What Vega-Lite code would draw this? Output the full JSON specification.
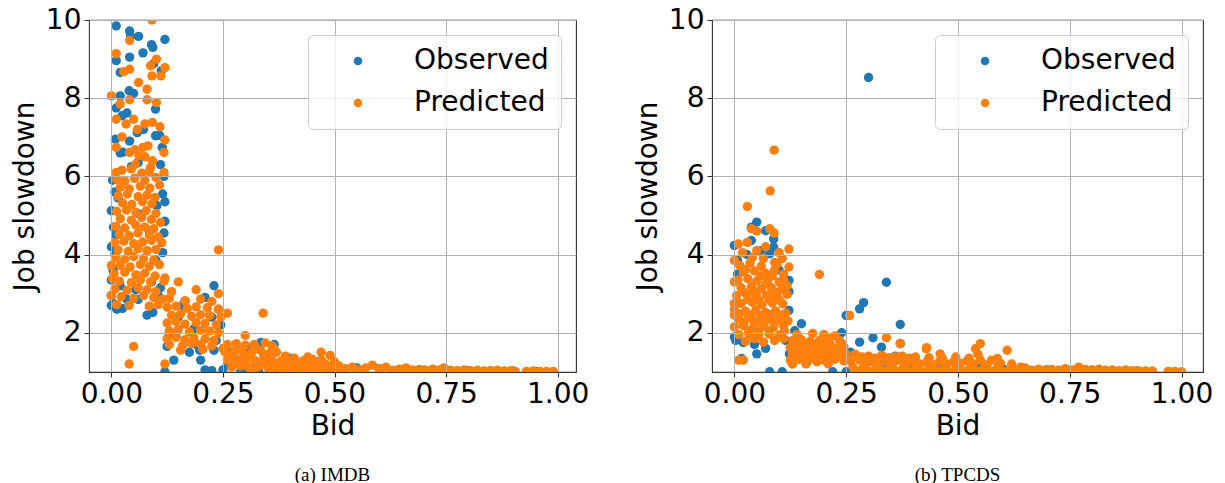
{
"$schema":"https://vega.github.io/schema/vega-lite/v6.json",
"padding":{"left":10,"top":5,"right":5,"bottom":0},
"bounds":"flush",
"spacing":136,
"resolve":{"scale":{"color":"independent"},"legend":{"color":"independent"}},
"config":{
 "view":{"stroke":"#333333","strokeWidth":1.1},
 "font":"DejaVu Sans",
 "axis":{"labelFont":"DejaVu Sans","labelFontSize":28,"labelColor":"#000000","titleFont":"DejaVu Sans","titleFontSize":28,"titleFontWeight":"normal","titleColor":"#000000","domain":false,"tickColor":"#333333","tickSize":5,"tickWidth":1,"gridColor":"#b0b0b0","gridWidth":1,"labelPadding":3,"zindex":1},
 "legend":{"orient":"top-right","offset":15,"labelFont":"DejaVu Sans","labelFontSize":28,"labelColor":"#000000","fillColor":"rgba(255,255,255,0.8)","strokeColor":"#cccccc","strokeWidth":1,"cornerRadius":5,"padding":12,"symbolType":"circle","symbolSize":72,"symbolOffset":24,"labelOffset":42,"rowPadding":14,"symbolStrokeWidth":0,"zindex":2},
 "title":{"font":"Liberation Serif","fontSize":19,"fontWeight":"normal","color":"#000000"}
},
"datasets":{
"aO":[{"x":0.011,"y":9.85},{"x":0.041,"y":9.72},{"x":0.043,"y":9.58},{"x":0.061,"y":9.58},{"x":0.12,"y":9.5},{"x":0.09,"y":9.37},{"x":0.093,"y":9.3},{"x":0.071,"y":9.16},{"x":0.041,"y":9.05},{"x":0.011,"y":8.96},{"x":0.095,"y":8.88},{"x":0.02,"y":8.66},{"x":0.112,"y":8.7},{"x":0.04,"y":8.19},{"x":0.05,"y":8.12},{"x":0.02,"y":8.06},{"x":0.099,"y":7.72},{"x":0.011,"y":7.75},{"x":0.024,"y":7.55},{"x":0.035,"y":7.62},{"x":0.058,"y":7.12},{"x":0.072,"y":7.2},{"x":0.099,"y":7.04},{"x":0.108,"y":7.05},{"x":0.009,"y":6.95},{"x":0.041,"y":6.9},{"x":0.114,"y":6.74},{"x":0.02,"y":6.6},{"x":0.026,"y":6.62},{"x":0.06,"y":6.35},{"x":0.045,"y":6.25},{"x":0.11,"y":6.3},{"x":0.118,"y":6.0},{"x":0.003,"y":5.9},{"x":0.008,"y":5.6},{"x":0.015,"y":5.45},{"x":0.0,"y":5.12},{"x":0.115,"y":5.55},{"x":0.12,"y":5.35},{"x":0.102,"y":5.25},{"x":0.06,"y":5.05},{"x":0.12,"y":4.85},{"x":0.005,"y":4.7},{"x":0.01,"y":4.5},{"x":0.118,"y":4.55},{"x":0.085,"y":4.6},{"x":0.0,"y":4.2},{"x":0.008,"y":4.0},{"x":0.115,"y":4.05},{"x":0.1,"y":3.85},{"x":0.004,"y":3.6},{"x":0.0,"y":3.35},{"x":0.09,"y":3.3},{"x":0.055,"y":3.1},{"x":0.0,"y":2.95},{"x":0.005,"y":2.75},{"x":0.0,"y":2.7},{"x":0.012,"y":2.6},{"x":0.025,"y":2.62},{"x":0.035,"y":2.85},{"x":0.06,"y":2.85},{"x":0.08,"y":2.45},{"x":0.093,"y":2.52},{"x":0.105,"y":2.95},{"x":0.11,"y":3.15},{"x":0.02,"y":3.2},
{"x":0.125,"y":1.65},{"x":0.14,"y":1.3},{"x":0.13,"y":2.0},{"x":0.15,"y":2.4},{"x":0.165,"y":2.8},{"x":0.175,"y":1.5},{"x":0.19,"y":1.7},{"x":0.2,"y":1.3},{"x":0.21,"y":2.9},{"x":0.23,"y":3.2},{"x":0.225,"y":2.4},{"x":0.235,"y":1.8},{"x":0.245,"y":2.2},{"x":0.24,"y":2.6},{"x":0.12,"y":1.0},{"x":0.21,"y":1.05},{"x":0.225,"y":1.03},{"x":0.185,"y":2.1},{"x":0.16,"y":2.7},{"x":0.145,"y":1.9},{"x":0.198,"y":1.55},{"x":0.23,"y":1.55},
{"x":0.25,"y":1.05},{"x":0.26,"y":1.2},{"x":0.27,"y":1.5},{"x":0.29,"y":1.02},{"x":0.3,"y":1.35},{"x":0.31,"y":1.6},{"x":0.32,"y":1.1},{"x":0.335,"y":1.75},{"x":0.345,"y":1.3},{"x":0.355,"y":1.04},{"x":0.36,"y":1.5},{"x":0.365,"y":1.7},{"x":0.37,"y":1.02},{"x":0.38,"y":1.25},{"x":0.39,"y":1.15},{"x":0.4,"y":1.35},{"x":0.42,"y":1.1},{"x":0.44,"y":1.2},{"x":0.46,"y":1.25},{"x":0.48,"y":1.15},{"x":0.5,"y":1.1},{"x":0.33,"y":1.02},{"x":0.3,"y":1.0},
{"x":0.55,"y":1.1},{"x":0.6,"y":1.08},{"x":0.65,"y":1.05},{"x":0.7,"y":1.04},{"x":0.75,"y":1.05},{"x":0.8,"y":1.03},{"x":0.85,"y":1.02},{"x":0.9,"y":1.02},{"x":0.95,"y":1.01},{"x":0.99,"y":1.0}],
"aP":[{"x":0.091,"y":10.0},{"x":0.041,"y":9.48},{"x":0.011,"y":9.14},{"x":0.101,"y":9.0},{"x":0.12,"y":8.78},{"x":0.088,"y":8.83},{"x":0.028,"y":8.68},{"x":0.041,"y":8.74},{"x":0.091,"y":8.57},{"x":0.111,"y":8.57},{"x":0.061,"y":8.4},{"x":0.08,"y":8.23},{"x":0.0,"y":8.06},{"x":0.041,"y":7.96},{"x":0.08,"y":7.96},{"x":0.101,"y":7.89},{"x":0.02,"y":7.85},{"x":0.011,"y":7.46},{"x":0.05,"y":7.46},{"x":0.033,"y":7.34},{"x":0.092,"y":7.38},{"x":0.109,"y":7.27},{"x":0.058,"y":7.2},{"x":0.075,"y":7.34},{"x":0.024,"y":7.01},{"x":0.011,"y":6.74},{"x":0.071,"y":6.74},{"x":0.082,"y":6.78},{"x":0.053,"y":6.68},{"x":0.12,"y":6.93},{"x":0.118,"y":6.61},{"x":0.041,"y":6.61},{"x":0.062,"y":6.53},{"x":0.075,"y":6.5},{"x":0.092,"y":6.4},{"x":0.088,"y":6.23},{"x":0.054,"y":6.31},{"x":0.011,"y":6.1},{"x":0.024,"y":6.16},{"x":0.045,"y":6.19},{"x":0.118,"y":6.1},{"x":0.068,"y":6.08},{"x":0.085,"y":6.12},
{"x":0.012,"y":5.92},{"x":0.03,"y":5.88},{"x":0.052,"y":5.95},{"x":0.075,"y":5.9},{"x":0.1,"y":5.97},
{"x":0.02,"y":5.72},{"x":0.04,"y":5.68},{"x":0.065,"y":5.75},{"x":0.086,"y":5.7},{"x":0.108,"y":5.78},
{"x":0.015,"y":5.5},{"x":0.036,"y":5.55},{"x":0.06,"y":5.48},{"x":0.08,"y":5.52},{"x":0.098,"y":5.46},
{"x":0.025,"y":5.32},{"x":0.046,"y":5.28},{"x":0.07,"y":5.35},{"x":0.091,"y":5.3},
{"x":0.012,"y":5.1},{"x":0.034,"y":5.14},{"x":0.055,"y":5.08},{"x":0.078,"y":5.12},{"x":0.1,"y":5.05},
{"x":0.02,"y":4.92},{"x":0.045,"y":4.88},{"x":0.068,"y":4.95},{"x":0.09,"y":4.9},{"x":0.11,"y":4.82},
{"x":0.01,"y":4.72},{"x":0.03,"y":4.68},{"x":0.055,"y":4.75},{"x":0.075,"y":4.7},{"x":0.095,"y":4.66},
{"x":0.018,"y":4.52},{"x":0.04,"y":4.48},{"x":0.06,"y":4.55},{"x":0.085,"y":4.5},{"x":0.105,"y":4.45},
{"x":0.008,"y":4.3},{"x":0.028,"y":4.34},{"x":0.05,"y":4.28},{"x":0.07,"y":4.32},{"x":0.09,"y":4.36},{"x":0.113,"y":4.3},
{"x":0.015,"y":4.12},{"x":0.038,"y":4.08},{"x":0.06,"y":4.15},{"x":0.08,"y":4.1},{"x":0.1,"y":4.13},
{"x":0.01,"y":3.92},{"x":0.03,"y":3.88},{"x":0.05,"y":3.95},{"x":0.072,"y":3.9},{"x":0.095,"y":3.86},
{"x":0.02,"y":3.72},{"x":0.042,"y":3.68},{"x":0.065,"y":3.75},{"x":0.085,"y":3.7},{"x":0.108,"y":3.74},
{"x":0.006,"y":3.5},{"x":0.03,"y":3.55},{"x":0.055,"y":3.48},{"x":0.075,"y":3.52},{"x":0.098,"y":3.45},
{"x":0.018,"y":3.32},{"x":0.045,"y":3.28},{"x":0.065,"y":3.35},{"x":0.088,"y":3.3},{"x":0.118,"y":3.32},
{"x":0.008,"y":3.12},{"x":0.035,"y":3.08},{"x":0.06,"y":3.15},{"x":0.08,"y":3.1},{"x":0.1,"y":3.05},
{"x":0.022,"y":2.92},{"x":0.05,"y":2.88},{"x":0.072,"y":2.95},{"x":0.095,"y":2.9},{"x":0.115,"y":2.86},
{"x":0.012,"y":2.72},{"x":0.04,"y":2.7},{"x":0.085,"y":2.68},{"x":0.105,"y":2.72},
{"x":0.0,"y":3.72},{"x":0.0,"y":2.95},{"x":0.003,"y":3.38},
{"x":0.13,"y":2.88},{"x":0.165,"y":2.82},{"x":0.2,"y":2.86},{"x":0.225,"y":2.8},
{"x":0.125,"y":2.65},{"x":0.145,"y":2.68},{"x":0.17,"y":2.62},{"x":0.19,"y":2.66},{"x":0.215,"y":2.64},{"x":0.24,"y":2.6},
{"x":0.135,"y":2.45},{"x":0.155,"y":2.48},{"x":0.18,"y":2.42},{"x":0.2,"y":2.46},{"x":0.22,"y":2.44},{"x":0.245,"y":2.4},
{"x":0.125,"y":2.25},{"x":0.145,"y":2.28},{"x":0.165,"y":2.22},{"x":0.19,"y":2.26},{"x":0.21,"y":2.24},{"x":0.235,"y":2.2},
{"x":0.13,"y":2.05},{"x":0.15,"y":2.08},{"x":0.175,"y":2.02},{"x":0.2,"y":2.06},{"x":0.22,"y":2.04},{"x":0.24,"y":2.0},
{"x":0.125,"y":1.85},{"x":0.145,"y":1.88},{"x":0.165,"y":1.82},{"x":0.185,"y":1.86},{"x":0.21,"y":1.84},{"x":0.23,"y":1.8},
{"x":0.13,"y":1.7},{"x":0.16,"y":1.68},{"x":0.18,"y":1.72},{"x":0.2,"y":1.7},{"x":0.225,"y":1.66},
{"x":0.155,"y":1.55},{"x":0.205,"y":1.58},
{"x":0.24,"y":4.12},{"x":0.05,"y":1.65},{"x":0.04,"y":1.2},{"x":0.12,"y":1.2},{"x":0.34,"y":2.5},{"x":0.26,"y":2.5},{"x":0.24,"y":3.0},{"x":0.19,"y":3.1},{"x":0.15,"y":3.3},{"x":0.135,"y":3.05},{"x":0.12,"y":3.4},{"x":0.3,"y":1.93},
{"x":0.26,"y":1.7},{"x":0.28,"y":1.72},{"x":0.3,"y":1.68},{"x":0.32,"y":1.7},{"x":0.345,"y":1.74},{"x":0.36,"y":1.66},
{"x":0.255,"y":1.5},{"x":0.275,"y":1.52},{"x":0.295,"y":1.48},{"x":0.315,"y":1.5},{"x":0.335,"y":1.54},{"x":0.355,"y":1.48},{"x":0.37,"y":1.5},
{"x":0.26,"y":1.3},{"x":0.28,"y":1.32},{"x":0.3,"y":1.28},{"x":0.32,"y":1.3},{"x":0.34,"y":1.34},{"x":0.36,"y":1.3},{"x":0.38,"y":1.28},
{"x":0.27,"y":1.12},{"x":0.29,"y":1.15},{"x":0.31,"y":1.1},{"x":0.33,"y":1.14},{"x":0.35,"y":1.12},{"x":0.37,"y":1.14},{"x":0.39,"y":1.1},
{"x":0.25,"y":1.6},{"x":0.265,"y":1.4},{"x":0.285,"y":1.6},{"x":0.305,"y":1.4},{"x":0.325,"y":1.6},{"x":0.345,"y":1.42},{"x":0.365,"y":1.58},{"x":0.28,"y":1.22},{"x":0.3,"y":1.18},{"x":0.34,"y":1.2},{"x":0.36,"y":1.22},
{"x":0.39,"y":1.4},{"x":0.41,"y":1.35},{"x":0.44,"y":1.38},{"x":0.47,"y":1.5},{"x":0.49,"y":1.42},
{"x":0.38,"y":1.2},{"x":0.4,"y":1.22},{"x":0.42,"y":1.2},{"x":0.44,"y":1.25},{"x":0.46,"y":1.22},{"x":0.48,"y":1.2},{"x":0.5,"y":1.25},
{"x":0.41,"y":1.3},{"x":0.43,"y":1.28},{"x":0.45,"y":1.32},{"x":0.47,"y":1.3},{"x":0.41,"y":1.12},{"x":0.43,"y":1.14},{"x":0.45,"y":1.12},{"x":0.47,"y":1.14},{"x":0.49,"y":1.12},
{"x":0.4,"y":1.05},{"x":0.42,"y":1.06},{"x":0.44,"y":1.05},{"x":0.46,"y":1.07},{"x":0.48,"y":1.05},{"x":0.5,"y":1.06},{"x":0.38,"y":1.05},{"x":0.36,"y":1.05},{"x":0.32,"y":1.04},
{"x":0.51,"y":1.15},{"x":0.525,"y":1.08},{"x":0.54,"y":1.12},{"x":0.555,"y":1.05},{"x":0.57,"y":1.1},{"x":0.585,"y":1.17},{"x":0.6,"y":1.08},{"x":0.615,"y":1.12},{"x":0.63,"y":1.04},{"x":0.645,"y":1.07},{"x":0.66,"y":1.1},{"x":0.675,"y":1.05},{"x":0.69,"y":1.06},{"x":0.705,"y":1.04},{"x":0.72,"y":1.07},{"x":0.735,"y":1.05},{"x":0.745,"y":1.1},{"x":0.76,"y":1.04},{"x":0.775,"y":1.03},{"x":0.79,"y":1.05},{"x":0.805,"y":1.03},{"x":0.82,"y":1.04},{"x":0.835,"y":1.02},{"x":0.85,"y":1.03},{"x":0.865,"y":1.04},{"x":0.88,"y":1.02},{"x":0.895,"y":1.03},{"x":0.905,"y":1.01},{"x":0.93,"y":1.01},{"x":0.945,"y":1.02},{"x":0.96,"y":1.01},{"x":0.975,"y":1.01},{"x":0.99,"y":1.0},
{"x":0.52,"y":1.02},{"x":0.56,"y":1.01},{"x":0.6,"y":1.0},{"x":0.64,"y":1.01},{"x":0.68,"y":1.0},{"x":0.72,"y":1.0},{"x":0.76,"y":1.0},{"x":0.8,"y":1.0},{"x":0.84,"y":1.0},{"x":0.88,"y":1.0}],
"bO":[{"x":0.3,"y":8.53},{"x":0.34,"y":3.29},{"x":0.289,"y":2.77},{"x":0.28,"y":2.61},{"x":0.25,"y":2.44},{"x":0.371,"y":2.21},{"x":0.15,"y":2.23},{"x":0.31,"y":1.87},{"x":0.28,"y":1.76},{"x":0.329,"y":1.63},{"x":0.371,"y":1.72},{"x":0.24,"y":2.0},{"x":0.05,"y":4.83},{"x":0.038,"y":4.7},{"x":0.07,"y":4.61},{"x":0.0,"y":4.23},{"x":0.007,"y":3.85},{"x":0.088,"y":4.4},{"x":0.088,"y":4.19},{"x":0.079,"y":4.02},{"x":0.038,"y":4.36},{"x":0.007,"y":3.5},{"x":0.122,"y":3.34},{"x":0.122,"y":3.05},{"x":0.122,"y":2.57},{"x":0.0,"y":1.89},{"x":0.003,"y":1.8},{"x":0.05,"y":1.46},{"x":0.07,"y":1.6},{"x":0.079,"y":1.0},{"x":0.107,"y":1.0},{"x":0.22,"y":1.0},{"x":0.016,"y":1.34},{"x":0.123,"y":1.46},{"x":0.16,"y":1.38},{"x":0.185,"y":1.3},{"x":0.215,"y":1.45},{"x":0.235,"y":1.6},{"x":0.26,"y":1.5},{"x":0.135,"y":2.05},{"x":0.115,"y":1.8},{"x":0.02,"y":1.75},{"x":0.045,"y":1.7},{"x":0.1,"y":3.6},{"x":0.06,"y":4.1},{"x":0.028,"y":4.0},{"x":0.3,"y":1.3},{"x":0.33,"y":1.2},{"x":0.36,"y":1.4},{"x":0.4,"y":1.2},{"x":0.45,"y":1.1},{"x":0.5,"y":1.15},{"x":0.55,"y":1.1},{"x":0.6,"y":1.08},{"x":0.7,"y":1.05},{"x":0.8,"y":1.04},{"x":0.9,"y":1.02},{"x":0.25,"y":1.0},{"x":0.35,"y":1.0}],
"bP":[{"x":0.089,"y":6.67},{"x":0.08,"y":5.63},{"x":0.029,"y":5.23},{"x":0.038,"y":4.66},{"x":0.079,"y":4.66},{"x":0.089,"y":4.55},{"x":0.05,"y":4.6},{"x":0.009,"y":4.27},{"x":0.029,"y":4.31},{"x":0.07,"y":4.2},{"x":0.0,"y":3.85},{"x":0.122,"y":4.14},{"x":0.19,"y":3.49},{"x":0.258,"y":2.44},{"x":0.34,"y":1.87},{"x":0.371,"y":1.72},{"x":0.429,"y":1.59},{"x":0.46,"y":1.46},{"x":0.539,"y":1.59},{"x":0.55,"y":1.72},{"x":0.61,"y":1.55},{"x":0.588,"y":1.34},{"x":0.01,"y":1.3},{"x":0.02,"y":1.3},{"x":0.107,"y":3.9},{"x":0.122,"y":3.68},{"x":0.09,"y":3.8},
{"x":0.012,"y":3.72},{"x":0.035,"y":3.78},{"x":0.06,"y":3.7},{"x":0.095,"y":3.75},
{"x":0.02,"y":3.55},{"x":0.045,"y":3.58},{"x":0.07,"y":3.52},{"x":0.09,"y":3.6},{"x":0.11,"y":3.5},
{"x":0.008,"y":3.35},{"x":0.03,"y":3.38},{"x":0.05,"y":3.32},{"x":0.075,"y":3.36},{"x":0.1,"y":3.3},{"x":0.118,"y":3.2},
{"x":0.015,"y":3.15},{"x":0.038,"y":3.18},{"x":0.06,"y":3.12},{"x":0.082,"y":3.16},{"x":0.105,"y":3.1},
{"x":0.005,"y":2.95},{"x":0.028,"y":2.98},{"x":0.05,"y":2.92},{"x":0.072,"y":2.96},{"x":0.095,"y":2.94},{"x":0.118,"y":2.98},
{"x":0.015,"y":2.75},{"x":0.04,"y":2.78},{"x":0.062,"y":2.72},{"x":0.085,"y":2.76},{"x":0.108,"y":2.74},
{"x":0.0,"y":2.6},{"x":0.025,"y":2.55},{"x":0.048,"y":2.58},{"x":0.07,"y":2.52},{"x":0.092,"y":2.56},{"x":0.115,"y":2.5},
{"x":0.01,"y":2.35},{"x":0.032,"y":2.38},{"x":0.055,"y":2.32},{"x":0.078,"y":2.36},{"x":0.1,"y":2.34},{"x":0.12,"y":2.3},
{"x":0.0,"y":2.15},{"x":0.02,"y":2.18},{"x":0.042,"y":2.12},{"x":0.065,"y":2.16},{"x":0.088,"y":2.14},{"x":0.11,"y":2.18},
{"x":0.01,"y":1.95},{"x":0.032,"y":1.98},{"x":0.055,"y":1.92},{"x":0.078,"y":1.96},{"x":0.1,"y":1.94},
{"x":0.025,"y":1.78},{"x":0.065,"y":1.76},{"x":0.09,"y":1.8},
{"x":0.0,"y":2.45},{"x":0.0,"y":2.75},{"x":0.0,"y":3.3},
{"x":0.025,"y":3.62},{"x":0.058,"y":3.45},{"x":0.085,"y":3.45},{"x":0.02,"y":3.05},{"x":0.045,"y":3.05},{"x":0.07,"y":3.25},{"x":0.09,"y":3.05},{"x":0.11,"y":3.35},{"x":0.03,"y":2.85},{"x":0.055,"y":2.82},{"x":0.078,"y":2.85},{"x":0.1,"y":2.85},{"x":0.012,"y":2.48},{"x":0.038,"y":2.45},{"x":0.06,"y":2.44},{"x":0.082,"y":2.46},{"x":0.105,"y":2.45},{"x":0.022,"y":2.26},{"x":0.045,"y":2.25},{"x":0.068,"y":2.26},{"x":0.09,"y":2.25},{"x":0.112,"y":2.05},{"x":0.032,"y":2.06},{"x":0.055,"y":2.05},{"x":0.078,"y":2.05},{"x":0.045,"y":1.85},{"x":0.11,"y":1.85},{"x":0.04,"y":3.92},{"x":0.065,"y":3.9},{"x":0.018,"y":4.05},{"x":0.05,"y":4.1},{"x":0.1,"y":4.05},
{"x":0.14,"y":1.95},{"x":0.175,"y":1.98},{"x":0.2,"y":1.95},{"x":0.225,"y":1.92},
{"x":0.13,"y":1.8},{"x":0.15,"y":1.82},{"x":0.17,"y":1.78},{"x":0.19,"y":1.8},{"x":0.21,"y":1.84},{"x":0.235,"y":1.8},
{"x":0.125,"y":1.62},{"x":0.145,"y":1.6},{"x":0.165,"y":1.64},{"x":0.185,"y":1.6},{"x":0.205,"y":1.62},{"x":0.225,"y":1.6},{"x":0.245,"y":1.64},
{"x":0.13,"y":1.45},{"x":0.15,"y":1.48},{"x":0.17,"y":1.42},{"x":0.19,"y":1.46},{"x":0.21,"y":1.44},{"x":0.23,"y":1.48},{"x":0.25,"y":1.45},
{"x":0.125,"y":1.3},{"x":0.145,"y":1.32},{"x":0.165,"y":1.28},{"x":0.2,"y":1.3},{"x":0.225,"y":1.32},{"x":0.245,"y":1.28},
{"x":0.135,"y":1.7},{"x":0.155,"y":1.72},{"x":0.175,"y":1.7},{"x":0.195,"y":1.72},{"x":0.215,"y":1.7},{"x":0.24,"y":1.72},{"x":0.14,"y":1.54},{"x":0.16,"y":1.52},{"x":0.18,"y":1.54},{"x":0.2,"y":1.52},{"x":0.22,"y":1.54},{"x":0.24,"y":1.52},{"x":0.135,"y":1.38},{"x":0.155,"y":1.38},{"x":0.18,"y":1.36},{"x":0.2,"y":1.4},{"x":0.22,"y":1.38},{"x":0.24,"y":1.38},{"x":0.185,"y":1.26},{"x":0.13,"y":1.2},{"x":0.16,"y":1.2},{"x":0.21,"y":1.2},
{"x":0.27,"y":1.45},{"x":0.3,"y":1.4},{"x":0.33,"y":1.42},{"x":0.36,"y":1.38},{"x":0.39,"y":1.35},
{"x":0.26,"y":1.28},{"x":0.28,"y":1.3},{"x":0.31,"y":1.26},{"x":0.34,"y":1.28},{"x":0.37,"y":1.3},{"x":0.4,"y":1.26},{"x":0.43,"y":1.62},{"x":0.43,"y":1.25},{"x":0.46,"y":1.28},{"x":0.49,"y":1.25},{"x":0.52,"y":1.28},{"x":0.55,"y":1.3},
{"x":0.265,"y":1.12},{"x":0.29,"y":1.14},{"x":0.32,"y":1.1},{"x":0.35,"y":1.12},{"x":0.38,"y":1.15},{"x":0.41,"y":1.12},{"x":0.44,"y":1.1},{"x":0.47,"y":1.12},{"x":0.5,"y":1.14},{"x":0.53,"y":1.12},{"x":0.56,"y":1.1},{"x":0.59,"y":1.15},{"x":0.62,"y":1.1},
{"x":0.285,"y":1.38},{"x":0.315,"y":1.35},{"x":0.345,"y":1.36},{"x":0.375,"y":1.4},{"x":0.405,"y":1.38},{"x":0.435,"y":1.36},{"x":0.465,"y":1.35},{"x":0.495,"y":1.38},{"x":0.525,"y":1.35},{"x":0.295,"y":1.2},{"x":0.325,"y":1.18},{"x":0.355,"y":1.2},{"x":0.385,"y":1.22},{"x":0.415,"y":1.2},{"x":0.445,"y":1.18},{"x":0.475,"y":1.2},{"x":0.505,"y":1.22},{"x":0.535,"y":1.2},{"x":0.565,"y":1.18},{"x":0.595,"y":1.22},{"x":0.285,"y":1.06},{"x":0.315,"y":1.06},{"x":0.345,"y":1.07},{"x":0.375,"y":1.06},{"x":0.405,"y":1.07},{"x":0.435,"y":1.06},{"x":0.465,"y":1.07},{"x":0.495,"y":1.06},{"x":0.525,"y":1.07},{"x":0.555,"y":1.06},{"x":0.585,"y":1.06},{"x":0.615,"y":1.05},{"x":0.64,"y":1.12},{"x":0.62,"y":1.2},{"x":0.575,"y":1.3},{"x":0.545,"y":1.45},
{"x":0.27,"y":1.02},{"x":0.3,"y":1.01},{"x":0.33,"y":1.02},{"x":0.36,"y":1.01},{"x":0.39,"y":1.02},{"x":0.42,"y":1.01},{"x":0.45,"y":1.02},{"x":0.48,"y":1.01},{"x":0.51,"y":1.02},{"x":0.54,"y":1.01},{"x":0.57,"y":1.02},{"x":0.6,"y":1.01},
{"x":0.635,"y":1.06},{"x":0.65,"y":1.1},{"x":0.665,"y":1.04},{"x":0.68,"y":1.07},{"x":0.695,"y":1.05},{"x":0.71,"y":1.06},{"x":0.725,"y":1.04},{"x":0.74,"y":1.08},{"x":0.755,"y":1.05},{"x":0.77,"y":1.12},{"x":0.785,"y":1.06},{"x":0.8,"y":1.05},{"x":0.815,"y":1.07},{"x":0.83,"y":1.04},{"x":0.845,"y":1.05},{"x":0.86,"y":1.03},{"x":0.875,"y":1.05},{"x":0.89,"y":1.03},{"x":0.905,"y":1.02},{"x":0.92,"y":1.02},{"x":0.935,"y":1.02},{"x":0.97,"y":1.01},{"x":0.985,"y":1.01},{"x":1.0,"y":1.0},{"x":0.66,"y":1.0},{"x":0.72,"y":1.0},{"x":0.78,"y":1.0},{"x":0.84,"y":1.0},{"x":0.9,"y":1.0}]
},
"hconcat":[
{"width":487,"height":352,
 "title":{"text":"(a) IMDB","orient":"bottom","anchor":"middle","offset":26,"fontSize":19},
 "encoding":{
  "x":{"field":"x","type":"quantitative","scale":{"domain":[-0.05,1.041],"nice":false,"zero":false},"axis":{"values":[0,0.25,0.5,0.75,1],"format":".2f","title":"Bid","titlePadding":4,"zindex":1}},
  "y":{"field":"y","type":"quantitative","scale":{"domain":[0.995,10],"nice":false,"zero":false},"axis":{"values":[2,4,6,8,10],"title":"Job slowdown","titlePadding":6,"zindex":1}}
 },
 "layer":[
  {"data":{"name":"aO"},"mark":{"type":"circle","size":88,"opacity":1,"clip":true},"encoding":{"color":{"datum":"Observed","type":"nominal","scale":{"domain":["Observed","Predicted"],"range":["#1f77b4","#ff7f0e"]},"legend":{"title":null}}}},
  {"data":{"name":"aP"},"mark":{"type":"circle","size":88,"opacity":1,"clip":true},"encoding":{"color":{"datum":"Predicted","type":"nominal"}}}
 ]},
{"width":491,"height":352,
 "title":{"text":"(b) TPCDS","orient":"bottom","anchor":"middle","offset":26,"fontSize":19},
 "encoding":{
  "x":{"field":"x","type":"quantitative","scale":{"domain":[-0.05,1.048],"nice":false,"zero":false},"axis":{"values":[0,0.25,0.5,0.75,1],"format":".2f","title":"Bid","titlePadding":4,"zindex":1}},
  "y":{"field":"y","type":"quantitative","scale":{"domain":[0.995,10],"nice":false,"zero":false},"axis":{"values":[2,4,6,8,10],"title":"Job slowdown","titlePadding":6,"zindex":1}}
 },
 "layer":[
  {"data":{"name":"bO"},"mark":{"type":"circle","size":88,"opacity":1,"clip":true},"encoding":{"color":{"datum":"Observed","type":"nominal","scale":{"domain":["Observed","Predicted"],"range":["#1f77b4","#ff7f0e"]},"legend":{"title":null}}}},
  {"data":{"name":"bP"},"mark":{"type":"circle","size":88,"opacity":1,"clip":true},"encoding":{"color":{"datum":"Predicted","type":"nominal"}}}
 ]}
]
}
